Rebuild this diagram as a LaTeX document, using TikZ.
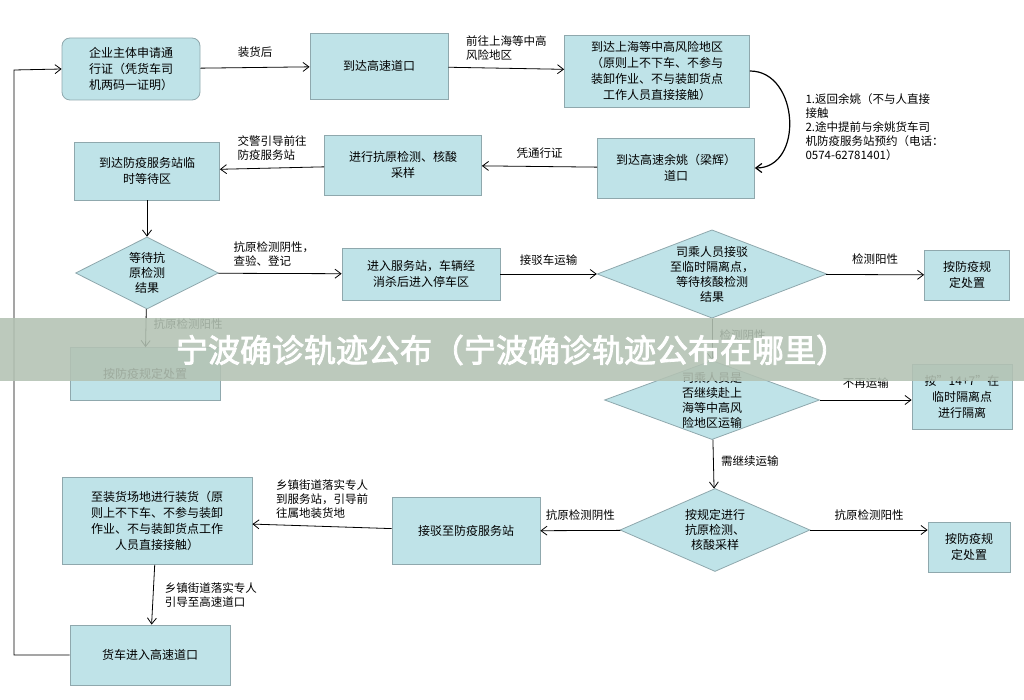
\documentclass[tikz,border=0pt]{standalone}
\usepackage{fontspec}
\setmainfont{Noto Sans CJK SC}
\newfontfamily\titlefont[FakeBold=2.5]{Noto Sans CJK SC}
\usetikzlibrary{shapes.geometric,arrows.meta}
\definecolor{boxfill}{HTML}{BFE3E8}
\definecolor{boxline}{HTML}{8FA8AD}
\definecolor{bandfill}{HTML}{B3C2B3}
\tikzset{
  box/.style={draw=boxline, fill=boxfill, thick, align=center, font=\fontsize{12}{16}\selectfont},
  dia/.style={diamond, draw=boxline, fill=boxfill, thick, align=center, aspect=2.6, inner sep=0pt, font=\fontsize{12}{15}\selectfont},
  go/.style={-{Straight Barb[length=6pt,width=9pt]}, thick},
  lab/.style={font=\fontsize{11.5}{14}\selectfont, align=left}
}
\begin{document}
\begin{tikzpicture}[x=1pt,y=-1pt]
		\useasboundingbox (0,0) rectangle (1024,700);
		% top row
		\node[box, rounded corners=8pt, minimum width=138, minimum height=62] (apply) at (131,69) {企业主体申请通\\行证（凭货车司\\机两码一证明）};
		\node[box, minimum width=138, minimum height=66] (gate) at (379,66) {到达高速道口};
		\node[box, minimum width=185, minimum height=72] (arrive) at (657,71) {到达上海等中高风险地区\\（原则上不下车、不参与\\装卸作业、不与装卸货点\\工作人员直接接触）};
		% second row
		\node[box, minimum width=157, minimum height=60] (yuyao) at (676,168) {到达高速余姚（梁辉）\\道口};
		\node[box, minimum width=157, minimum height=60] (test) at (403,165) {进行抗原检测、核酸\\采样};
		\node[box, minimum width=145, minimum height=58] (wait) at (147,171) {到达防疫服务站临\\时等待区};
		% third row
		\node[dia, minimum width=132, minimum height=72] (result) at (147,273) {等待抗\\原检测\\结果};
		\node[box, minimum width=158, minimum height=52] (park) at (421,274) {进入服务站，车辆经\\消杀后进入停车区};
		\node[dia, minimum width=225, minimum height=84] (isol) at (712,274) {司乘人员接驳\\至临时隔离点，\\等待核酸检测\\结果};
		\node[box, minimum width=85, minimum height=50] (pos1) at (967,275) {按防疫规\\定处置};
		% fourth row
		\node[box, minimum width=150, minimum height=53] (pos2) at (145,374) {按防疫规定处置};
		\node[dia, minimum width=215, minimum height=76] (cont) at (712,400) {司乘人员是\\否继续赴上\\海等中高风\\险地区运输};
		\node[box, minimum width=100, minimum height=65] (quar) at (962,397) {按"14+7"在\\临时隔离点\\进行隔离};
		% fifth row
		\node[dia, minimum width=190, minimum height=83] (again) at (715,530) {按规定进行\\抗原检测、\\核酸采样};
		\node[box, minimum width=82, minimum height=50] (pos3) at (969,547) {按防疫规\\定处置};
		\node[box, minimum width=148, minimum height=67] (back) at (466,531) {接驳至防疫服务站};
		\node[box, minimum width=190, minimum height=87] (load) at (157,521) {至装货场地进行装货（原\\则上不下车、不参与装卸\\作业、不与装卸货点工作\\人员直接接触）};
		\node[box, minimum width=160, minimum height=60] (exit) at (150,655) {货车进入高速道口};

		% connectors
		\draw[go] (apply) -- (gate) node[pos=0.5, above=6pt, lab]{装货后};
		\draw[go] (gate) -- (arrive) node[pos=0.5, above=4pt, lab]{前往上海等中高\\风险地区};
		\draw[go, very thick] (arrive.east) to[out=0, in=0, looseness=1.3] (yuyao.east);
		\node[lab, anchor=north west] (note) at (802,90) {1.返回余姚（不与人直接\\接触\\2.途中提前与余姚货车司\\机防疫服务站预约（电话：\\0574-62781401）};
		\draw[go] (yuyao) -- (test) node[pos=0.5, above=4pt, lab]{凭通行证};
		\draw[go] (test) -- (wait) node[pos=0.5, above=4pt, lab]{交警引导前往\\防疫服务站};
		\draw[go] (wait) -- (result);
		\draw[go] (result) -- (park) node[pos=0.45, above=3pt, lab]{抗原检测阴性，\\查验、登记};
		\draw[go] (park) -- (isol) node[pos=0.5, above=5pt, lab]{接驳车运输};
		\draw[go] (isol) -- (pos1) node[pos=0.5, above=6pt, lab]{检测阳性};
		\draw[go] (result) -- (pos2) node[pos=0.4, right=4pt, lab]{抗原检测阳性};
		\draw[go] (isol) -- (cont) node[pos=0.4, right=4pt, lab]{检测阴性};
		\draw[go] (cont.east) -- (quar.west |- cont.east) node[pos=0.5, above=8pt, lab]{不再运输};
		\draw[go] (cont) -- (again) node[pos=0.45, right=4pt, lab]{需继续运输};
		\draw[go] (again.east) -- (pos3.west |- again.east) node[pos=0.5, above=6pt, lab]{抗原检测阳性};
		\draw[go] (again) -- (back) node[pos=0.5, above=6pt, lab]{抗原检测阴性};
		\draw[go] (back) -- (load) node[pos=0.5, above=4pt, lab]{乡镇街道落实专人\\到服务站，引导前\\往属地装货地};
		\draw[go] (load) -- (exit) node[pos=0.5, right=8pt, lab]{乡镇街道落实专人\\引导至高速道口};
		\draw[go] (exit.west) -- (14,655) -- (14,70) -- (apply.west);

		% title band
		\fill[bandfill, opacity=0.88] (0,318) rectangle (1024,381);
		\node[text=white, font=\fontsize{32}{34}\titlefont] (title) at (512,350) {宁波确诊轨迹公布（宁波确诊轨迹公布在哪里）};
	\end{tikzpicture}
\end{document}
